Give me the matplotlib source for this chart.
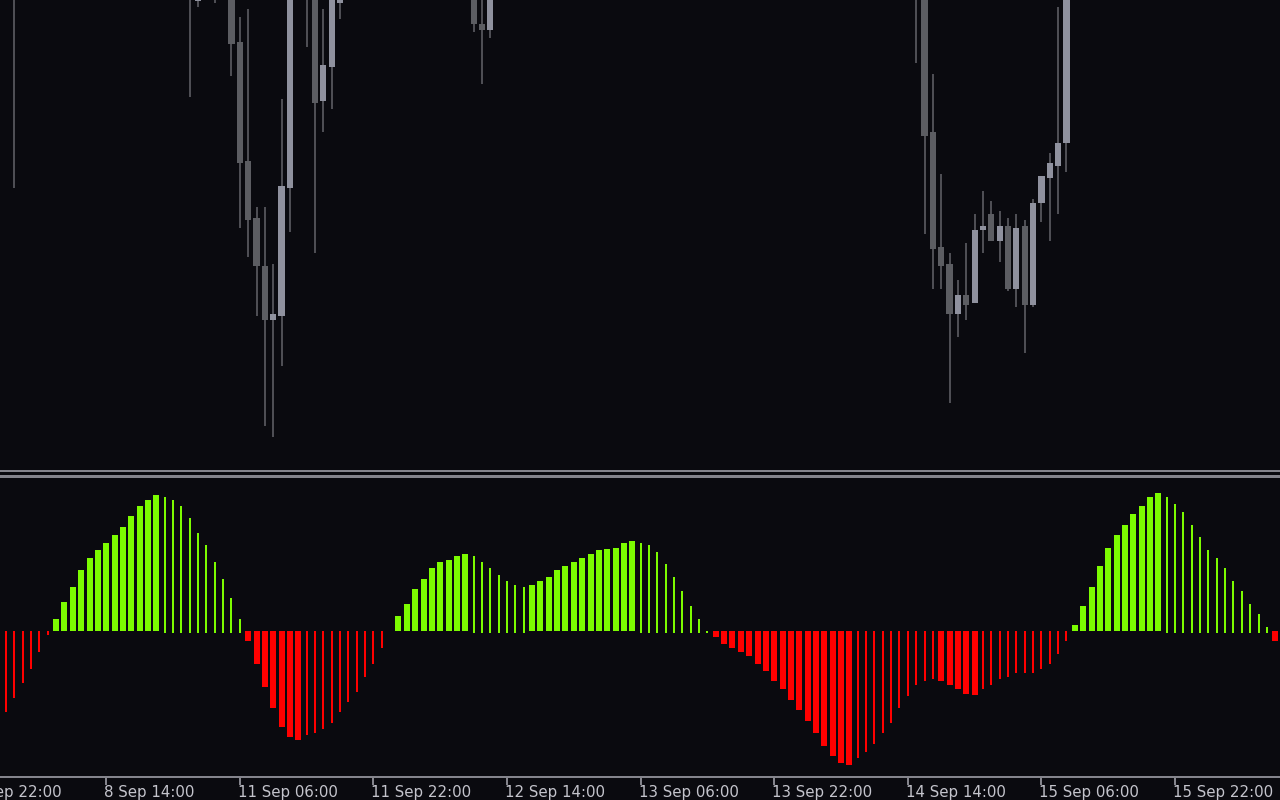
import numpy as np
import matplotlib
matplotlib.use("Agg")
import matplotlib.pyplot as plt
from matplotlib.patches import Rectangle
from matplotlib.lines import Line2D
from matplotlib.transforms import blended_transform_factory

# =========================
# DATA
# =========================

# oscillator value per bar (bar 0 = left edge of chart)
osc = [
    -81, -67, -52, -38, -21, -4, 12, 29, 44, 61,
    73, 81, 88, 96, 104, 115, 125, 131, 136, 134,
    131, 125, 113, 98, 86, 69, 52, 33, 12, -10,
    -33, -56, -77, -96, -106, -109, -104, -102, -98, -92,
    -81, -71, -61, -46, -33, -17, 0, 15, 27, 42,
    52, 63, 69, 71, 75, 77, 75, 69, 63, 56,
    50, 46, 44, 46, 50, 54, 61, 65, 69, 73,
    77, 81, 82, 83, 88, 90, 88, 86, 79, 67,
    54, 40, 25, 12, 0.3, -6, -13, -17, -21, -25,
    -33, -40, -50, -58, -69, -79, -90, -102, -115, -125,
    -132, -134, -127, -121, -113, -102, -92, -77, -65, -54,
    -50, -48, -50, -54, -58, -63, -64, -58, -54, -48,
    -46, -42, -42, -42, -38, -33, -23, -10, 6, 25,
    44, 65, 83, 96, 106, 117, 125, 134, 138, 134,
    127, 119, 106, 94, 81, 73, 63, 50, 40, 27,
    17, 4, -10,
]

# candles that reach into the visible price window (bar index, OHLC)
candle_idx = [1, 22, 23, 25, 27, 28, 29, 30, 31, 32, 33, 34, 36, 37, 38, 39, 40,
              56, 57, 58,
              109, 110, 111, 112, 113, 114, 115, 116, 117, 118, 119, 120, 121,
              122, 123, 124, 125, 126, 127]
c_open = [540, 510, 469, 495, 500, 428, 309, 252, 204, 150, 154, 282, 500, 510, 369, 403, 467,
          500, 446, 440,
          510, 495, 338, 223, 206, 156, 175, 167, 240, 256, 229, 244, 181,
          244, 165, 267, 292, 304, 327]
c_high = [560, 530, 500, 510, 515, 453, 461, 263, 263, 206, 371, 540, 520, 525, 461, 510, 505,
          515, 490, 505,
          520, 510, 396, 296, 217, 190, 227, 256, 279, 269, 259, 252, 256,
          250, 271, 294, 317, 463, 520]
c_low = [282, 373, 463, 467, 394, 242, 213, 154, 44, 33, 104, 238, 423, 217, 338, 361, 451,
         438, 386, 432,
         407, 236, 181, 181, 67, 133, 150, 167, 217, 229, 208, 179, 163,
         117, 163, 248, 229, 256, 298]
c_close = [520, 495, 490, 480, 426, 307, 250, 204, 150, 156, 284, 520, 490, 367, 405, 500, 495,
           446, 440, 495,
           500, 334, 221, 204, 156, 175, 165, 240, 244, 229, 244, 181, 242,
           165, 267, 294, 307, 327, 510]

tick_pos = [-4, 12, 28, 44, 60, 76, 92, 108, 124, 140]
tick_labels = ["7 Sep 22:00", "8 Sep 14:00", "11 Sep 06:00", "11 Sep 22:00",
               "12 Sep 14:00", "13 Sep 06:00", "13 Sep 22:00", "14 Sep 14:00",
               "15 Sep 06:00", "15 Sep 22:00"]

# =========================
# STYLE
# =========================

BG = "#0a0a0f"
GRID = "#84848c"
BULL = "#8f919e"
BEAR = "#5c5d62"
WICK = "#4e4e54"
GREEN = "#7cfc00"
RED = "#ff0000"
TEXT = "#c4c4cc"

W, H = 1280, 800
XMIN, XMAX = -0.72, 152.57

fig = plt.figure(figsize=(W / 100, H / 100), dpi=100, facecolor=BG)

# =========================
# PRICE PANE
# =========================

ax_p = fig.add_axes([0, (H - 468) / H, 1, 468 / H])
ax_p.set_facecolor(BG)
ax_p.set_xlim(XMIN, XMAX)
ax_p.set_ylim(2, 470)
ax_p.axis("off")

for i, o, h, l, c in zip(candle_idx, c_open, c_high, c_low, c_close):
    ax_p.vlines(i, l, h, color=WICK, lw=1.44, zorder=2)
    lo, hi = min(o, c), max(o, c)
    ax_p.add_patch(Rectangle((i - 0.37, lo), 0.74, max(hi - lo, 1.2),
                             facecolor=BULL if c >= o else BEAR,
                             edgecolor="none", zorder=3))

# =========================
# OSCILLATOR PANE
# =========================

ax_o = fig.add_axes([0, (H - 777) / H, 1, 299 / H])
ax_o.set_facecolor(BG)
ax_o.set_xlim(XMIN, XMAX)
ax_o.set_ylim(-146, 153)

v = np.array(osc, dtype=float)
x = np.arange(len(v))
prev = np.r_[v[0], v[:-1]]
thick = ((v > 0) & (v > prev)) | ((v < 0) & (v < prev))

m = (v > 0) & thick
ax_o.bar(x[m], v[m], width=0.72, color=GREEN, linewidth=0)
m = (v > 0) & ~thick
ax_o.bar(x[m], v[m] + 2, bottom=-2, width=0.24, color=GREEN, linewidth=0)
m = (v < 0) & thick
ax_o.bar(x[m], v[m], width=0.72, color=RED, linewidth=0)
m = (v < 0) & ~thick
ax_o.bar(x[m], v[m], width=0.24, color=RED, linewidth=0)

for s in ["top", "left", "right"]:
    ax_o.spines[s].set_visible(False)
ax_o.spines["bottom"].set_color(GRID)
ax_o.spines["bottom"].set_linewidth(1.44)
ax_o.set_yticks([])
ax_o.set_xticks([p for p in tick_pos if XMIN < p < XMAX])
ax_o.tick_params(axis="x", direction="out", length=5.5, width=1.44,
                 color=GRID, labelbottom=False)

# time labels, left-aligned at each tick like the terminal does
tr = blended_transform_factory(ax_o.transData, fig.transFigure)
for p, lab in zip(tick_pos, tick_labels):
    ax_o.text(p - 0.24, (H - 785) / H, lab, transform=tr, ha="left", va="top",
              fontsize=10.8, color=TEXT, family="DejaVu Sans", clip_on=False)

# double separator between the two panes
for y_px, lw in [(470.5, 1.44), (475.5, 2.16)]:
    fig.add_artist(Line2D([0, 1], [(H - y_px) / H] * 2, color=GRID, lw=lw,
                          transform=fig.transFigure))

fig.savefig("out.png", dpi=100, facecolor=BG)
